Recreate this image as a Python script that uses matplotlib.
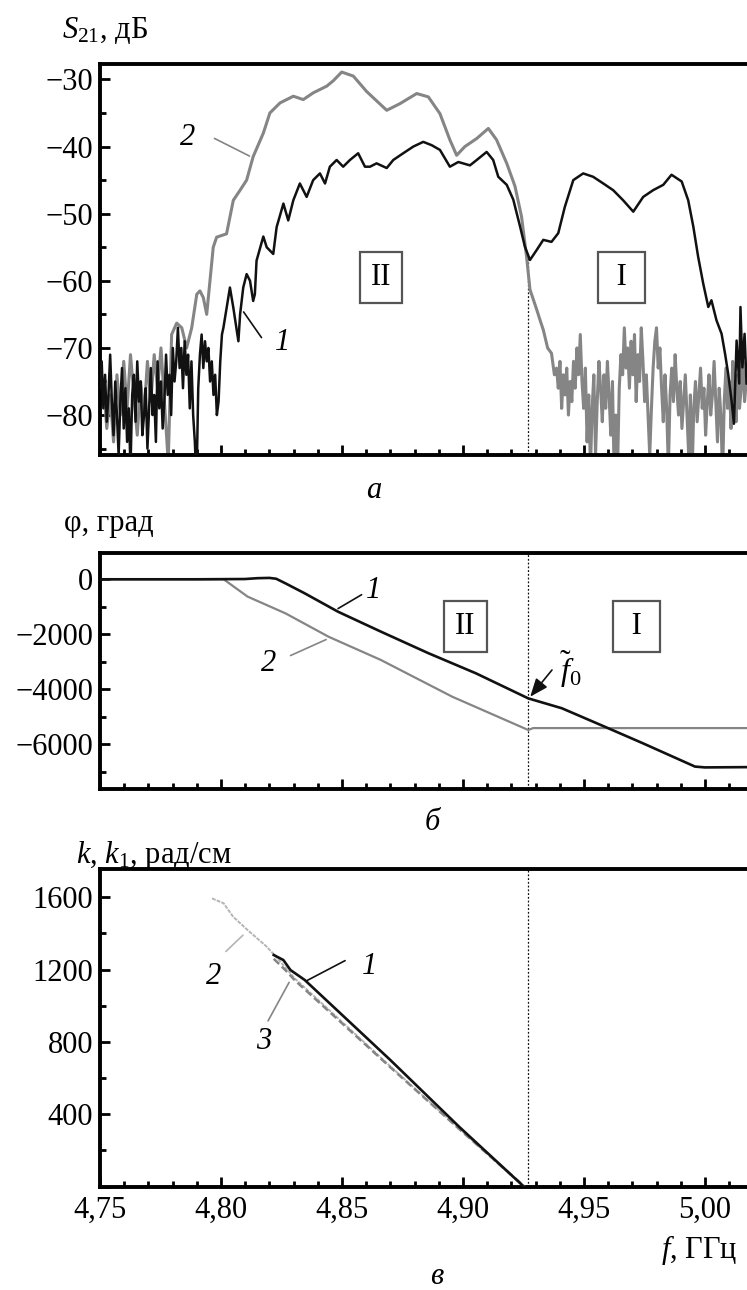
import numpy as np
import matplotlib
matplotlib.use("Agg")
import matplotlib.pyplot as plt
from matplotlib.ticker import MultipleLocator, FuncFormatter

FS = 22
plt.rcParams.update({
    "font.family": ["Liberation Serif", "DejaVu Serif"],
    "mathtext.fontset": "custom",
    "mathtext.rm": "Liberation Serif",
    "mathtext.it": "Liberation Serif:italic",
    "mathtext.bf": "Liberation Serif:bold",
    "font.size": FS,
})

# ---------------- (а) transmission coefficient S21, dB ----------------
# curve 1 (black)
s21_f1 = [4.7500, 4.7507, 4.7514, 4.7521, 4.7528, 4.7535, 4.7542, 4.7549, 4.7556, 4.7563,
          4.7570, 4.7577, 4.7584, 4.7591, 4.7598, 4.7605, 4.7612, 4.7619, 4.7626, 4.7633,
          4.7640, 4.7647, 4.7654, 4.7661, 4.7668, 4.7675, 4.7682, 4.7689, 4.7696, 4.7703,
          4.7710, 4.7717, 4.7724, 4.7731, 4.7738, 4.7745, 4.7752, 4.7759, 4.7766, 4.7773,
          4.7780, 4.7787, 4.7794, 4.7801, 4.7808, 4.7815, 4.7822, 4.7829, 4.7836, 4.7843,
          4.7850, 4.7857, 4.7864, 4.7871, 4.7878, 4.7885, 4.7892, 4.7899, 4.7906, 4.7913,
          4.7920, 4.7927, 4.7934, 4.7941, 4.7948, 4.7955, 4.7962, 4.7969, 4.7976, 4.7983,
          4.7990, 4.7997, 4.8004,
          4.8010, 4.8037, 4.8051, 4.8072, 4.8079, 4.8092, 4.8106, 4.8120, 4.8133, 4.8140,
          4.8147, 4.8175, 4.8189, 4.8216, 4.8230, 4.8258, 4.8278, 4.8299, 4.8326, 4.8354,
          4.8381, 4.8409, 4.8430, 4.8450, 4.8478, 4.8505, 4.8533, 4.8567, 4.8595, 4.8616,
          4.8643, 4.8685, 4.8712, 4.8753, 4.8795, 4.8836, 4.8871, 4.8905, 4.8946, 4.8981,
          4.9029, 4.9057, 4.9098, 4.9125, 4.9146, 4.9181, 4.9208, 4.9236, 4.9256, 4.9277,
          4.9305, 4.9332, 4.9366, 4.9394, 4.9421, 4.9456, 4.9497, 4.9538, 4.9580, 4.9621,
          4.9662, 4.9704, 4.9745, 4.9786, 4.9828, 4.9862, 4.9904, 4.9931, 4.9952, 4.9972,
          4.9993, 5.0014, 5.0027, 5.0048, 5.0069, 5.0083, 5.0096, 5.0110, 5.0120, 5.0131,
          5.0142, 5.0147, 5.0155, 5.0164, 5.0172]
s21_db1 = [-76, -72, -79, -74, -81, -77, -71, -78, -83, -75,
           -80, -86, -78, -73, -82, -76, -84, -79, -88, -77,
           -74, -81, -72, -78, -75, -83, -80, -76, -85, -79,
           -73, -80, -77, -84, -72, -79, -75, -82, -78, -71,
           -77, -74, -80, -70, -75, -72, -67, -73, -70, -76,
           -69, -74, -71, -79, -72, -80, -84, -90, -76, -71,
           -68, -73, -69, -72, -70, -75, -72, -77, -74, -80,
           -78, -72, -68,
           -67, -61, -64, -69, -65, -61, -59, -60, -63, -62,
           -57, -53.4, -55, -56, -52, -48.5, -51, -48, -45.5, -47.5,
           -45, -44, -45.5, -43, -42, -43, -42, -41, -43, -43,
           -42.5, -43.2, -42, -41, -40, -39.3, -39.8, -40.5, -43, -42.3,
           -42.8, -42, -40.8, -42, -44.5, -45.7, -47.9, -51.9, -54.9, -56.9,
           -55.4, -53.9, -54.2, -52.9, -49, -45, -44, -44.5, -45.5, -46.5,
           -48, -49.7, -47.5, -46.5, -45.7, -44.2, -45.2, -48, -51.9, -56.4,
           -60.4, -63.9, -62.9, -65.9, -67.9, -70.8, -73.8, -77.8, -81.3, -68.9,
           -75.3, -63.9, -72.9, -67.9, -75.3]

# curve 2 (grey)
s21_f2 = [4.7500, 4.7514, 4.7528, 4.7542, 4.7556, 4.7570, 4.7584, 4.7598, 4.7612, 4.7626,
          4.7640, 4.7654, 4.7668, 4.7682, 4.7696, 4.7710, 4.7724, 4.7738, 4.7752, 4.7766,
          4.7782, 4.7796, 4.7817, 4.7838, 4.7858, 4.7879, 4.7900, 4.7913, 4.7927, 4.7941,
          4.7968, 4.7982, 4.8023, 4.8051, 4.8079, 4.8106, 4.8133, 4.8175, 4.8202, 4.8244,
          4.8299, 4.8340, 4.8381, 4.8437, 4.8464, 4.8499, 4.8547, 4.8602, 4.8685, 4.8740,
          4.8809, 4.8857, 4.8905, 4.8946, 4.8974, 4.9008, 4.9057, 4.9105, 4.9139, 4.9181,
          4.9215, 4.9242, 4.9263, 4.9277, 4.9305, 4.9320, 4.9332, 4.9350, 4.9366, 4.9378,
          4.9387, 4.9394, 4.9401, 4.9408, 4.9415, 4.9422, 4.9429, 4.9436, 4.9443, 4.9450,
          4.9457, 4.9464, 4.9471, 4.9478, 4.9485, 4.9492, 4.9499, 4.9506, 4.9513, 4.9520,
          4.9527, 4.9534, 4.9541, 4.9548, 4.9555, 4.9562, 4.9569, 4.9576, 4.9583, 4.9590,
          4.9597, 4.9604, 4.9611, 4.9618, 4.9625, 4.9632, 4.9639, 4.9646, 4.9653, 4.9660,
          4.9667, 4.9674, 4.9681, 4.9688, 4.9695, 4.9702, 4.9709, 4.9716, 4.9723, 4.9730,
          4.9737, 4.9744, 4.9751, 4.9758, 4.9765, 4.9772, 4.9779, 4.9786, 4.9793, 4.9800,
          4.9807, 4.9814, 4.9821, 4.9828, 4.9835, 4.9842, 4.9849, 4.9856, 4.9863, 4.9870,
          4.9877, 4.9884, 4.9891, 4.9898, 4.9905, 4.9912, 4.9919, 4.9926, 4.9933, 4.9940,
          4.9947, 4.9954, 4.9961, 4.9968, 4.9975, 4.9982, 4.9989, 4.9996, 5.0003, 5.0010,
          5.0017, 5.0024, 5.0031, 5.0038, 5.0045, 5.0052, 5.0059, 5.0066, 5.0073, 5.0080,
          5.0087, 5.0094, 5.0101, 5.0108, 5.0115, 5.0122, 5.0129, 5.0136, 5.0143, 5.0150,
          5.0157, 5.0164, 5.0171]
s21_db2 = [-78, -75, -82, -77, -84, -74, -80, -72, -79, -71,
           -77, -83, -75, -80, -72, -78, -71, -76, -70, -78,
           -87, -68, -66.3, -67, -70, -67, -62, -61.5, -62.5, -65,
           -55, -53.5, -53, -48, -46.5, -45, -41.5, -38, -35, -33.5,
           -32.5, -33, -32, -31, -30.2, -28.9, -29.5, -31.8, -34.6, -33.6,
           -32.1, -32.6, -35.1, -39, -41.3, -40, -38.8, -37.3, -39, -42.5,
           -45.9, -50.4, -56.4, -61.3, -64.3, -66, -67.3, -70, -70.8, -74,
           -73, -76, -72, -79, -74, -77, -73, -80, -75, -78,
           -72, -76, -70, -74, -68, -75, -79, -73, -84, -77,
           -88, -79, -74, -86, -78, -72, -76, -81, -74, -79,
           -72, -77, -83, -75, -89, -80, -88, -76, -71, -74,
           -67, -73, -70, -76, -69, -74, -68, -78, -71, -75,
           -67, -72, -78, -74, -80, -86, -79, -73, -69, -67,
           -73, -70, -76, -81, -74, -79, -88, -77, -73, -78,
           -71, -76, -80, -75, -82, -78, -74, -80, -86, -77,
           -89, -79, -75, -81, -77, -73, -79, -76, -83, -78,
           -74, -80, -77, -72, -78, -84, -76, -80, -89, -78,
           -73, -79, -75, -82, -72, -77, -81, -74, -79, -76,
           -72, -78, -75]

# ---------------- (б) phase, degrees ----------------
phase_f1 = [4.7500, 4.7900, 4.8100, 4.8150, 4.8200, 4.8228, 4.8267, 4.8346, 4.8484, 4.8660,
            4.8858, 4.9054, 4.9270, 4.9409, 4.9586, 4.9743, 4.9959, 5.0000, 5.0175]
phase_deg1 = [0, 0, 10, 40, 50, 20, -150, -510, -1180, -1900,
              -2690, -3420, -4330, -4690, -5360, -5960, -6810, -6840, -6830]
phase_f2 = [4.7500, 4.8011, 4.8110, 4.8267, 4.8445, 4.8660, 4.8956, 4.9270, 4.9290, 5.0175]
phase_deg2 = [0, 0, -630, -1240, -2090, -2930, -4270, -5480, -5410, -5410]

# ---------------- (в) wavenumbers k, k1, rad/cm ----------------
k_f1 = [4.8218, 4.8258, 4.8287, 4.8346, 4.8700, 4.8985, 4.9252]
k_val1 = [1281, 1253, 1198, 1143, 700, 330, 0]
k_f2 = [4.7963, 4.8011, 4.8050, 4.8110, 4.8189, 4.8228, 4.8306, 4.8700, 4.9250]
k_val2 = [1594, 1567, 1493, 1419, 1327, 1271, 1150, 665, 0]
k_f3 = [4.8218, 4.8268, 4.8306, 4.8700, 4.9000, 4.9255]
k_val3 = [1260, 1195, 1140, 660, 300, 0]

f0 = 4.927  # boundary between regions II and I

XLIM = (4.75, 5.0174)
BLACK = "#111111"
GRAY = "#858585"
LIGHT = "#b5b5b5"

W, H = 747, 1290
fig = plt.figure(figsize=(W / 100, H / 100), dpi=100)


def px_axes(top, bottom, left=100):
    return fig.add_axes([left / W, 1 - bottom / H, 1 - left / W, (bottom - top) / H])


def minus(v, p):
    return f"{v:.0f}".replace("-", "\u2212")


def style(ax, ymajor, yminor, xlabels=False):
    ax.set_xlim(*XLIM)
    for side in ("left", "bottom", "top"):
        ax.spines[side].set_linewidth(2.8)
    ax.spines["right"].set_visible(False)
    ax.xaxis.set_major_locator(MultipleLocator(0.05))
    ax.xaxis.set_minor_locator(MultipleLocator(0.01))
    ax.yaxis.set_major_locator(MultipleLocator(ymajor))
    ax.yaxis.set_minor_locator(MultipleLocator(yminor))
    ax.tick_params(which="both", direction="in", top=False, right=False, width=2.0)
    ax.tick_params(which="major", length=7)
    ax.tick_params(which="minor", length=4)
    ax.tick_params(axis="y", which="major", pad=5, labelsize=FS)
    ax.tick_params(axis="x", which="major", pad=7, labelsize=FS)
    if xlabels:
        ax.xaxis.set_major_formatter(FuncFormatter(lambda v, p: f"{v:.2f}".replace(".", ",")))
    else:
        ax.tick_params(axis="x", labelbottom=False)


box_kw = dict(boxstyle="square,pad=0.36", fc="white", ec="#555555", lw=1.6)

# ---- panel а ----
ax1 = px_axes(64, 455)
style(ax1, 10, 5)
ax1.set_ylim(-85.95, -27.7)
ax1.yaxis.set_major_formatter(FuncFormatter(minus))
ax1.plot(s21_f2, s21_db2, color=GRAY, lw=2.2, zorder=2)
ax1.plot(s21_f1, s21_db1, color=BLACK, lw=1.8, zorder=3)
ax1.plot([f0, f0], [-85.95, np.interp(f0, s21_f1, s21_db1)], color=BLACK, lw=0.9,
         ls=(0, (1.5, 1.5)), zorder=1)
ax1.text(4.8661, -59.5, "II", ha="center", va="center", bbox=box_kw)
ax1.text(4.9655, -59.5, " I ", ha="center", va="center", bbox=box_kw)
ax1.annotate("", xy=(4.8128, -41.6), xytext=(4.7963, -38.6),
             arrowprops=dict(arrowstyle="-", color=GRAY, lw=1.2))
ax1.text(4.7864, -38.6, "2", style="italic", ha="center", va="center")
ax1.annotate("", xy=(4.8087, -64.3), xytext=(4.8174, -68.8),
             arrowprops=dict(arrowstyle="-", color=BLACK, lw=1.2))
ax1.text(4.8256, -69.2, "1", style="italic", ha="center", va="center")

# ---- panel б ----
ax2 = px_axes(553, 789.3)
style(ax2, 2000, 1000)
ax2.set_ylim(-7636, 956)
ax2.yaxis.set_major_formatter(FuncFormatter(minus))
ax2.plot(phase_f2, phase_deg2, color=GRAY, lw=1.6, zorder=2)
ax2.plot(phase_f1, phase_deg1, color=BLACK, lw=1.9, zorder=3)
ax2.axvline(f0, color=BLACK, lw=0.9, ls=(0, (1.5, 1.5)), zorder=1)
ax2.text(4.9011, -1723, "II", ha="center", va="center", bbox=box_kw)
ax2.text(4.9718, -1723, " I ", ha="center", va="center", bbox=box_kw)
ax2.annotate("", xy=(4.8474, -1116), xytext=(4.8591, -509),
             arrowprops=dict(arrowstyle="-", color=BLACK, lw=1.2))
ax2.text(4.8631, -390, "1", style="italic", ha="center", va="center")
ax2.annotate("", xy=(4.8445, -2150), xytext=(4.8277, -2814),
             arrowprops=dict(arrowstyle="-", color=GRAY, lw=1.2))
ax2.text(4.8198, -3054, "2", style="italic", ha="center", va="center")
ax2.annotate("", xy=(f0 + 0.0008, np.interp(f0, phase_f1, phase_deg1) + 60),
             xytext=(4.9368, -3298),
             arrowprops=dict(arrowstyle="-|>,head_length=0.5,head_width=0.2",
                             color=BLACK, lw=1.2, shrinkA=0, shrinkB=0))
ax2.text(4.9445, -3250, r"$\tilde{f}_0$", ha="center", va="center", fontsize=FS + 1)

# ---- panel в ----
ax3 = px_axes(869.3, 1186.6)
style(ax3, 400, 200, xlabels=True)
ax3.set_ylim(0, 1755)
ax3.yaxis.set_major_formatter(FuncFormatter(lambda v, p: "" if v == 0 else f"{v:.0f}"))
ax3.plot(k_f2, k_val2, color=LIGHT, lw=1.4, ls=(0, (2, 0.6)), zorder=2)
ax3.plot(k_f3, k_val3, color=GRAY, lw=1.8, ls=(0, (3, 1.5)), zorder=3)
ax3.plot(k_f1, k_val1, color=BLACK, lw=1.9, zorder=4)
ax3.axvline(f0, color=BLACK, lw=0.9, ls=(0, (1.5, 1.5)), zorder=1)
ax3.annotate("", xy=(4.8346, 1133), xytext=(4.8523, 1257),
             arrowprops=dict(arrowstyle="-", color=BLACK, lw=1.2))
ax3.text(4.8612, 1216, "1", style="italic", ha="center", va="center")
ax3.annotate("", xy=(4.8099, 1401), xytext=(4.8012, 1290),
             arrowprops=dict(arrowstyle="-", color=LIGHT, lw=1.2))
ax3.text(4.7971, 1161, "2", style="italic", ha="center", va="center")
ax3.annotate("", xy=(4.8287, 1143), xytext=(4.8189, 903),
             arrowprops=dict(arrowstyle="-", color=GRAY, lw=1.2))
ax3.text(4.8178, 801, "3", style="italic", ha="center", va="center")

# ---- axis captions and panel letters ----
fig.text(62 / W, 1 - 30 / H, r"$S_{21}$, дБ", ha="left", va="center")
fig.text(64 / W, 1 - 523 / H, "φ, град", ha="left", va="center")
fig.text(76 / W, 1 - 855 / H, r"$k$, $k_1$, рад/см", ha="left", va="center")
fig.text(738 / W, 1 - 1250 / H, r"$f$, ГГц", ha="right", va="center")
fig.text(374 / W, 1 - 490 / H, "а", style="italic", ha="center", va="center")
fig.text(432 / W, 1 - 823 / H, "б", style="italic", ha="center", va="center")
fig.text(437 / W, 1 - 1276 / H, "в", style="italic", ha="center", va="center")

fig.savefig("out.png", dpi=100)
